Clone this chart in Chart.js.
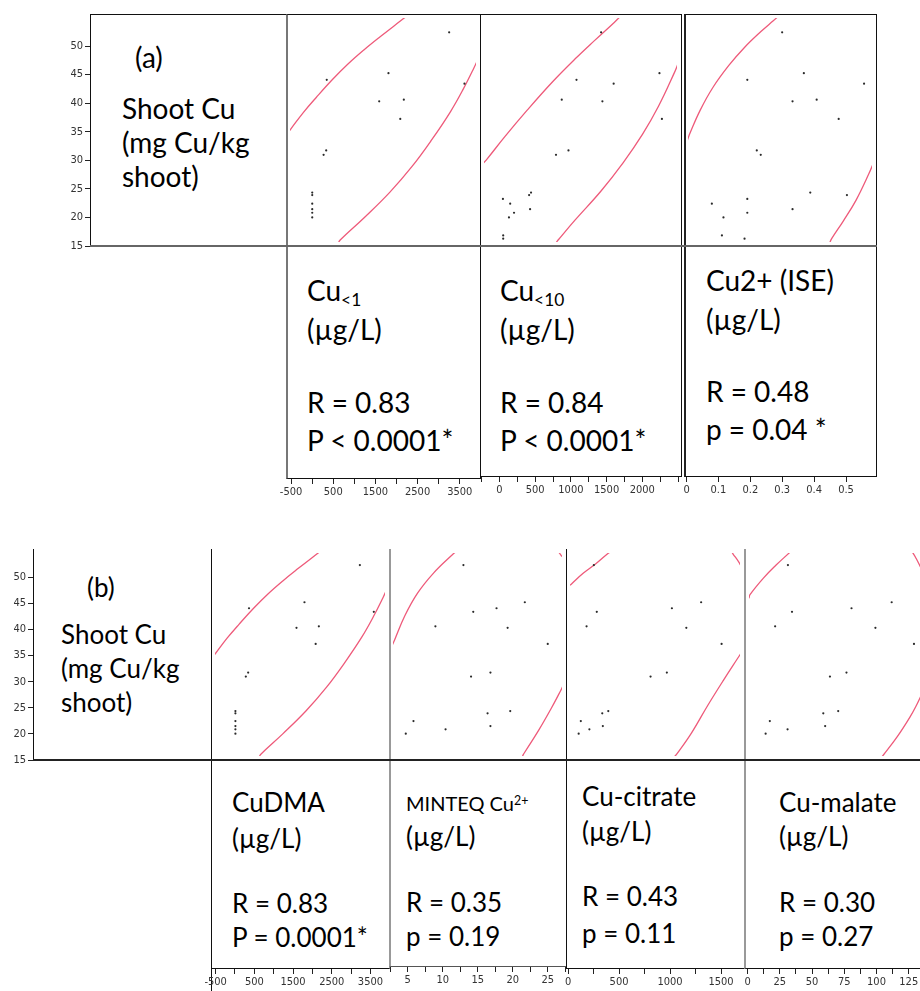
<!DOCTYPE html>
<html>
<head>
<meta charset="utf-8">
<script src="https://cdn.jsdelivr.net/npm/chart.js@4.4.0/dist/chart.umd.min.js"></script>
<style>
  html, body { margin: 0; padding: 0; background: #fff; }
  #fig { position: relative; width: 920px; height: 991px; overflow: hidden; font-family: Lato, 'Open Sans', sans-serif; color: #000; }
  .ln { position: absolute; box-sizing: border-box; }
  .txt { position: absolute; white-space: nowrap; line-height: 1; }
  .txt sub { font-size: 0.62em; vertical-align: -0.28em; }
  .txt sup { font-size: 0.62em; vertical-align: 0.5em; }
</style>
</head>
<body>
<div id="fig"></div>
<script>
// shoot Cu (mg Cu/kg shoot), one entry per sample; every x array below follows this order
const shootCu = [53.0, 45.6, 44.4, 43.7, 40.5, 40.8, 37.3, 31.6, 30.8, 23.95, 23.5, 22.8, 21.95, 20.95, 20.3, 19.45, 16.2, 15.6];

// x values per panel (µg/L), null = no point in that panel
const cuLt1 = [3316, 1815, 289, 3695, 1586, 2195, 2107, 275, 211, -70, -70, null, -70, -70, -70, -70, null, null];
const cuLt10 = [1435, 2286, 1076, 1618, 1454, 861, 2322, 959, 777, 413, 385, 3, 109, 399, 165, 91, 7, 7];
const cuIse = [0.30, 0.371, 0.186, 0.568, 0.334, 0.413, 0.485, 0.217, 0.230, 0.392, 0.512, 0.186, 0.070, 0.334, 0.186, 0.108, 0.103, 0.177];
const cuDma = [3300, 1801, 300, 3677, 1585, 2190, 2104, 277, 214, -68, -68, null, -68, -68, -68, -68, null, null];
const minteq = [12.86, 22.04, 17.81, 14.33, 19.47, 8.67, 25.47, 16.9, 14.0, 19.86, 16.47, null, 5.39, 16.9, 10.19, 4.24, null, null];
const citrate = [225, 1326, 1026, 255, 1174, 150, 1536, 974, 807, 373, 311, null, 91, 317, 179, 69, null, null];
const malate = [29.6, 113.8, 81.2, 32.9, 100.6, 19.2, 131.9, 77.1, 63.7, 70.4, 58.3, null, 14.9, 59.8, 29.3, 11.5, null, null];

// density ellipse pieces, [x, shoot Cu]
const lt1Upper = [[-650, 35.0], [-588, 35.6], [-287, 38.5], [29, 41.2], [424, 44.4], [820, 47.3], [1214, 49.85], [1609, 52.2], [2100, 55.0], [2260, 55.9]];
const lt1Lower = [[560, 14.6], [621, 15.35], [1214, 19.4], [1846, 24.0], [2399, 28.7], [2873, 33.4], [3347, 38.6], [3664, 42.7], [3925, 46.5], [4050, 48.5]];
const lt10Upper = [[-300, 29.1], [-241, 29.85], [31, 34.1], [357, 38.9], [731, 44.1], [1057, 48.2], [1338, 51.5], [1627, 54.8], [1700, 55.7]];
const lt10Lower = [[780, 14.9], [815, 15.45], [1057, 19.0], [1431, 24.2], [1758, 29.4], [2038, 34.5], [2272, 39.6], [2504, 45.7], [2560, 47.4]];
const iseUpper = [[-0.011, 33.3], [-0.0016, 34.7], [0.032, 38.9], [0.0734, 43.0], [0.1256, 47.0], [0.1775, 50.3], [0.2297, 53.1], [0.271, 55.1], [0.29, 56.0]];
const iseLower = [[0.455, 14.8], [0.462, 15.6], [0.5, 18.8], [0.542, 22.6], [0.584, 27.4], [0.6, 29.5]];
const minteqUpper = [[2.2, 37.0], [2.57, 38.1], [4.1, 42.9], [6.0, 47.4], [8.39, 51.4], [11.24, 55.1], [11.8, 55.7]];
const minteqLower = [[21.7, 15.0], [21.96, 15.6], [24.1, 20.1], [26.0, 24.5], [27.43, 28.1], [27.8, 29.1]];
const minteqCorner = [[26.9, 56.0], [27.1, 55.6], [27.6, 54.7]];
const citrateUpper = [[-20, 48.97], [-7, 49.2], [118, 51.4], [248, 53.3], [363, 55.2], [400, 55.7]];
const citrateLower = [[1050, 14.8], [1081, 15.5], [1228, 19.6], [1392, 25.0], [1556, 30.1], [1703, 34.5], [1730, 35.3]];
const citrateCorner = [[1640, 55.6], [1654, 55.2], [1713, 53.6], [1730, 53.0]];
const malateUpper = [[-2, 46.4], [-1.2, 47.1], [9.7, 50.4], [20, 53.0], [31.2, 55.55], [33, 56.0]];
const malateLower = [[105, 14.6], [107.4, 15.3], [118.2, 18.8], [128.5, 22.7], [133.7, 25.0], [137.6, 27.0]];
const malateCorner = [[128, 56.0], [130.6, 55.55], [133.7, 54.3], [137.6, 52.4]];

const yTicks = [15, 20, 25, 30, 35, 40, 45, 50];

const fig = document.getElementById('fig');
const RED = '#ee5a7a';
const TICK_FONT = { family: "'Liberation Sans Narrow', 'DejaVu Sans Condensed', 'Liberation Sans', sans-serif", size: 11 };

const rowA = { top: 14, bottom: 246, yMax: 55.6, axisTop: 478, axisX: 90 };
const rowB = { top: 549, bottom: 760, yMax: 55.4, axisTop: 968, axisX: 33 };

const panels = [
  { row: rowA, left: 286, right: 480, values: cuLt1, curves: [lt1Upper, lt1Lower], xMin: -620, xMax: 3980, step: 500, labelFrom: -500, labelEvery: 1000 },
  { row: rowA, left: 480, right: 681, values: cuLt10, curves: [lt10Upper, lt10Lower], xMin: -273, xMax: 2542, step: 250, labelFrom: 0, labelEvery: 500, axisTop: 476 },
  { row: rowA, left: 684, right: 876, values: cuIse, curves: [iseUpper, iseLower], xMin: -0.008, xMax: 0.594, step: 0.1, labelFrom: 0, labelEvery: 0.1, axisTop: 476 },
  { row: rowB, left: 211, right: 389, values: cuDma, curves: [lt1Upper, lt1Lower], xMin: -620, xMax: 3980, step: 500, labelFrom: -500, labelEvery: 1000 },
  { row: rowB, left: 389, right: 566, values: minteq, curves: [minteqUpper, minteqLower, minteqCorner], xMin: 2.33, xMax: 27.6, step: 2.5, labelFrom: 5, labelEvery: 5, axisTop: 966 },
  { row: rowB, left: 566, right: 744, values: citrate, curves: [citrateUpper, citrateLower, citrateCorner], xMin: -20, xMax: 1725, step: 250, labelFrom: 0, labelEvery: 500 },
  { row: rowB, left: 745, right: 925, values: malate, curves: [malateUpper, malateLower, malateCorner], xMin: -2, xMax: 137.6, step: 12.5, labelFrom: 0, labelEvery: 25 }
];

function line(left, top, w, h, css) {
  const d = document.createElement('div');
  d.className = 'ln';
  d.style.cssText = `left:${left}px;top:${top}px;width:${w}px;height:${h}px;${css || ''}`;
  fig.appendChild(d);
}

function makeCanvas(left, top, w, h) {
  const c = document.createElement('canvas');
  c.width = w;
  c.height = h;
  c.style.cssText = `position:absolute;left:${left}px;top:${top}px;width:${w}px;height:${h}px`;
  fig.appendChild(c);
  return c;
}

function stepTicks(min, max, step) {
  const out = [];
  for (let k = Math.ceil(min / step - 1e-9); k * step <= max + 1e-9; k++) out.push(+(k * step).toFixed(6));
  return out;
}

const baseOpts = {
  responsive: false,
  animation: false,
  events: [],
  layout: { padding: 0 },
  plugins: { legend: { display: false }, tooltip: { enabled: false } }
};

// ---- frames
line(90, 14, 196, 232, 'border-top:1px solid #111;border-left:1px solid #111;');
line(286, 14, 195, 465, 'border:1px solid #111;border-left:2px solid #777;');
line(480, 14, 202, 463, 'border:1px solid #111;');
line(684, 14, 193, 463, 'border:1px solid #111;border-left:2px solid #222;');
line(90, 245, 787, 2, 'background:#666;');

line(33, 549, 1, 211, 'background:#111;');
line(211, 549, 179, 420, 'border-left:1px solid #111;border-right:1px solid #999;border-bottom:1px solid #111;');
line(211, 549, 1, 442, 'background:#111;');
line(389, 549, 178, 418, 'border-left:2px solid #999;border-right:1px solid #111;border-bottom:1px solid #555;');
line(566, 549, 179, 420, 'border-left:1px solid #111;border-right:1px solid #999;border-bottom:1px solid #111;');
line(744, 549, 180, 420, 'border-left:2px solid #999;border-bottom:1px solid #111;');
line(33, 759, 887, 2, 'background:#222;');

// ---- scatter panels
panels.forEach(p => {
  const r = p.row;
  const c = makeCanvas(p.left, r.top, p.right - p.left, r.bottom - r.top);
  const pts = [];
  p.values.forEach((v, i) => { if (v !== null) pts.push({ x: v, y: shootCu[i] }); });
  const datasets = [{ data: pts, showLine: false, pointRadius: 1.1, pointBorderWidth: 0, pointBackgroundColor: '#2a2a2a' }];
  p.curves.forEach(cv => datasets.push({
    data: cv.map(d => ({ x: d[0], y: d[1] })),
    showLine: true, pointRadius: 0, borderColor: RED, borderWidth: 1.3, tension: 0.4
  }));
  new Chart(c, {
    type: 'scatter',
    data: { datasets },
    options: Object.assign({}, baseOpts, {
      scales: {
        x: { type: 'linear', display: false, min: p.xMin, max: p.xMax },
        y: { type: 'linear', display: false, min: 15, max: r.yMax }
      }
    })
  });
});

// ---- x axis strips under the text boxes (canvas a bit wider so end labels are not cut)
panels.forEach(p => {
  const h = 26, ext = 16;
  const w = p.right - p.left;
  const perPx = (p.xMax - p.xMin) / w;
  const c = makeCanvas(p.left - ext, p.axisTop || p.row.axisTop, w + 2 * ext, h);
  const isLabel = v => {
    const k = (v - p.labelFrom) / p.labelEvery;
    return Math.abs(k - Math.round(k)) < 1e-6 && v <= p.xMax - 12 * perPx;
  };
  new Chart(c, {
    type: 'scatter',
    data: { datasets: [] },
    options: Object.assign({}, baseOpts, {
      scales: {
        x: {
          type: 'linear', position: 'bottom', min: p.xMin - ext * perPx, max: p.xMax + ext * perPx,
          afterBuildTicks: s => { s.ticks = stepTicks(p.xMin, p.xMax, p.step).map(v => ({ value: v })); },
          afterFit: s => { s.height = h - 1; s.paddingLeft = 0; s.paddingRight = 0; },
          ticks: { autoSkip: false, maxRotation: 0, minRotation: 0, padding: 2, color: '#333', font: TICK_FONT,
            callback: v => isLabel(v) ? String(+v.toFixed(4)) : '' },
          grid: { drawOnChartArea: false, drawTicks: true, tickLength: 5, tickColor: '#222' },
          border: { display: false }
        },
        y: { display: false, min: 0, max: 1 }
      }
    })
  });
});

// ---- shoot Cu axes
[rowA, rowB].forEach(r => {
  const pad = 12;
  const perUnit = (r.bottom - r.top) / (r.yMax - 15);
  const c = makeCanvas(0, r.top - pad, r.axisX + 2, r.bottom - r.top + 2 * pad);
  new Chart(c, {
    type: 'scatter',
    data: { datasets: [] },
    options: Object.assign({}, baseOpts, {
      scales: {
        x: { display: false, min: 0, max: 1 },
        y: {
          type: 'linear', position: 'left', min: 15 - pad / perUnit, max: r.yMax + pad / perUnit,
          afterBuildTicks: s => { s.ticks = yTicks.map(v => ({ value: v })); },
          afterFit: s => { s.width = r.axisX; s.paddingTop = 0; s.paddingBottom = 0; },
          ticks: { autoSkip: false, padding: 2, color: '#333', font: TICK_FONT },
          grid: { drawOnChartArea: false, drawTicks: true, tickLength: 5, tickColor: '#222' },
          border: { display: false }
        }
      }
    })
  });
});

// ---- text
const texts = [
  [135, 68, 28, '(a)'],
  [122, 119, 28, 'Shoot Cu'],
  [122, 153, 28, '(mg Cu/kg'],
  [122, 187, 28, 'shoot)'],
  [307, 301, 28, 'Cu<sub>&lt;1</sub>'],
  [307, 340, 28, '(µg/L)'],
  [307, 413, 28, 'R = 0.83'],
  [307, 451, 28, 'P &lt; 0.0001*'],
  [500, 301, 28, 'Cu<sub>&lt;10</sub>'],
  [500, 340, 28, '(µg/L)'],
  [500, 413, 28, 'R = 0.84'],
  [500, 451, 28, 'P &lt; 0.0001*'],
  [706, 291, 28, 'Cu2+ (ISE)'],
  [706, 330, 28, '(µg/L)'],
  [706, 402, 28, 'R = 0.48'],
  [706, 440, 28, 'p = 0.04 *'],
  [87, 597, 26, '(b)'],
  [61, 644, 26, 'Shoot Cu'],
  [61, 678, 26, '(mg Cu/kg'],
  [61, 712, 26, 'shoot)'],
  [232, 812, 26, 'CuDMA'],
  [232, 848, 26, '(µg/L)'],
  [232, 913, 26, 'R = 0.83'],
  [232, 947, 26, 'P = 0.0001*'],
  [406, 811, 20, 'MINTEQ Cu<sup>2+</sup>'],
  [406, 846, 26, '(µg/L)'],
  [406, 912, 26, 'R = 0.35'],
  [406, 946, 26, 'p = 0.19'],
  [582, 806, 26, 'Cu-citrate'],
  [582, 841, 26, '(µg/L)'],
  [582, 906, 26, 'R = 0.43'],
  [582, 943, 26, 'p = 0.11'],
  [779, 812, 26, 'Cu-malate'],
  [779, 846, 26, '(µg/L)'],
  [779, 912, 26, 'R = 0.30'],
  [779, 946, 26, 'p = 0.27']
];
texts.forEach(([x, base, size, html]) => {
  const d = document.createElement('div');
  d.className = 'txt';
  d.style.cssText = `left:${x}px;top:${(base - 0.887 * size).toFixed(1)}px;font-size:${size}px;`;
  d.innerHTML = html;
  fig.appendChild(d);
});
</script>
</body>
</html>
